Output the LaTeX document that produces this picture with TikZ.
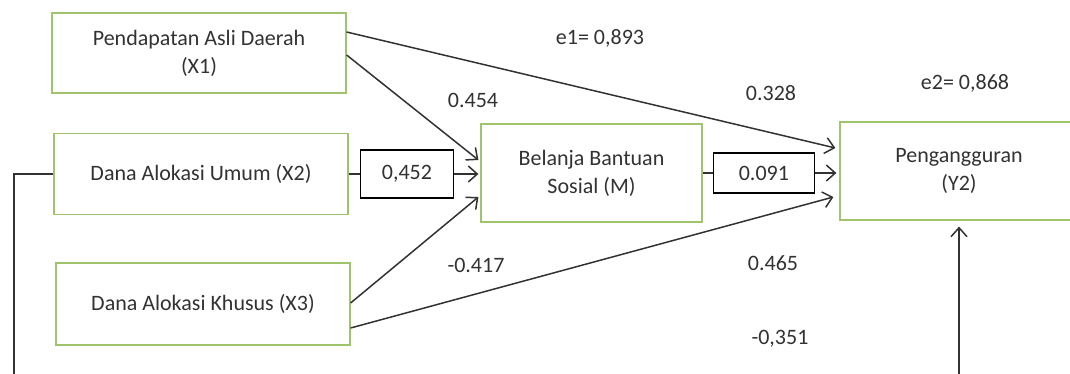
\documentclass[tikz,border=0pt]{standalone}
\usepackage{fontspec}
\setmainfont{Carlito}
\usepackage{tikz}
\usetikzlibrary{arrows.meta,positioning,calc}
\definecolor{boxgreen}{RGB}{160,195,110}
\definecolor{inkgray}{RGB}{50,50,50}

\begin{document}
\begin{tikzpicture}[x=1pt, y=-1pt, >={Straight Barb[length=9pt,width=16pt]},
  every node/.style={font=\fontsize{22}{28}\selectfont, text=inkgray}]
\tikzstyle{var}=[draw=boxgreen, line width=1.2pt, align=center, inner sep=0pt]
\tikzstyle{coef}=[draw=black, line width=1.6pt, fill=white, inner sep=0pt]
\tikzstyle{link}=[->, draw=inkgray, line width=1.5pt]
\useasboundingbox (0,0) rectangle (1070,374);
\clip (0,0) rectangle (1070,374);
% variabel
\node[var, minimum width=294pt, minimum height=80pt] (x1) at (199,53) {Pendapatan Asli Daerah\\(X1)};
\node[var, minimum width=294pt, minimum height=81pt] (x2) at (201,174) {Dana Alokasi Umum (X2)};
\node[var, minimum width=294pt, minimum height=82pt] (x3) at (203,304) {Dana Alokasi Khusus (X3)};
\node[var, minimum width=221pt, minimum height=98pt] (bbs) at (591.5,173) {Belanja Bantuan\\Sosial (M)};
\node[var, minimum width=238pt, minimum height=98pt] (pgr) at (959,171) {Pengangguran\\(Y2)};
% koefisien
\node[coef, minimum width=93pt, minimum height=48pt, right=11pt of x2] (kA) {0,452};
\node[coef, minimum width=101pt, minimum height=40pt, right=10pt of bbs] (kB) {0.091};
\coordinate (lb) at (14,380);
\coordinate (rb) at (959,380);
% jalur
\draw[link] ($(x1.east)+(0,-21)$) -- ($(pgr.west)+(-4,-23)$);
\draw[link] ($(x1.east)+(0,2)$) -- ($(bbs.west)+(-2,-13)$);
\draw[inkgray, line width=1.5pt] (x2.east) -- (kA.west);
\draw[link] (kA.east) -- ($(kA.east -| bbs.west)+(-2,0)$);
\draw[link] ($(x3.east)+(0,-1)$) -- ($(bbs.west)+(-2,24)$);
\draw[link] ($(x3.east)+(0,24)$) -- ($(pgr.west)+(-6,26)$);
\draw[inkgray, line width=1.5pt] (bbs.east) -- (kB.west);
\draw[link] (kB.east) -- ($(kB.east -| pgr.west)+(-3,0)$);
\draw[inkgray, line width=1.5pt] (x2.west) -| (lb);
\draw[link, shorten >=6pt] (rb) -- (pgr.south);
% label
\node (e1) at (600,38) {e1= 0,893};
\node (e2) at (965,83) {e2= 0,868};
\node (lA) at (473,100) {0.454};
\node (lB) at (771,93) {0.328};
\node (lC) at (476,265) {-0.417};
\node (lD) at (773,263) {0.465};
\node (lE) at (780,339) {-0,351};
\end{tikzpicture}
\end{document}
